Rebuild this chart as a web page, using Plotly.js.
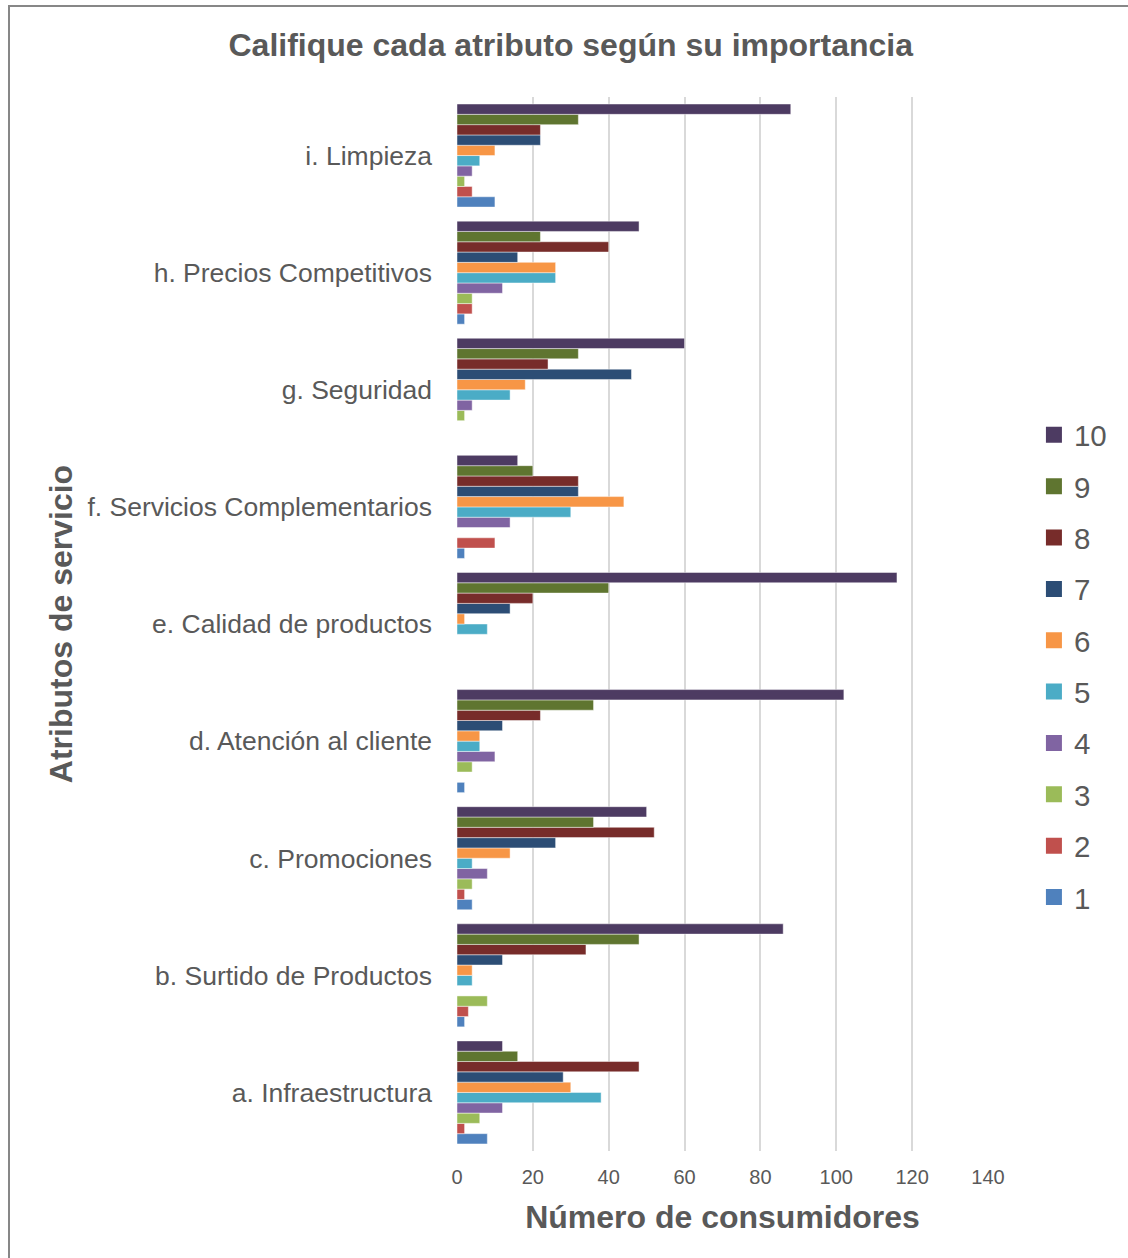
<!DOCTYPE html>
<html>
<head>
<meta charset="utf-8">
<script src="https://cdn.plot.ly/plotly-3.0.1.min.js"></script>
<style>
  html, body { margin: 0; padding: 0; background: #ffffff; overflow: hidden; }
  #chart { position: absolute; left: 0; top: 0; width: 1128px; height: 1258px; }
  #frame { position: absolute; left: 8px; top: 5px; width: 1200px; height: 1300px;
           border-left: 2px solid #878787; border-top: 2px solid #878787; pointer-events: none; }
</style>
</head>
<body>
<div id="chart"></div>
<div id="frame"></div>
<script>
// Categories (bottom to top)
const categories = [
  "a. Infraestructura",
  "b. Surtido de Productos",
  "c. Promociones",
  "d. Atención al cliente",
  "e. Calidad de productos",
  "f. Servicios Complementarios",
  "g. Seguridad",
  "h. Precios Competitivos",
  "i. Limpieza"
];

// Series: rating score -> number of consumers per category (a..i)
const rating1  = [8, 2, 4, 2, 0, 2, 0, 2, 10];
const rating2  = [2, 3, 2, 0, 0, 10, 0, 4, 4];
const rating3  = [6, 8, 4, 4, 0, 0, 2, 4, 2];
const rating4  = [12, 0, 8, 10, 0, 14, 4, 12, 4];
const rating5  = [38, 4, 4, 6, 8, 30, 14, 26, 6];
const rating6  = [30, 4, 14, 6, 2, 44, 18, 26, 10];
const rating7  = [28, 12, 26, 12, 14, 32, 46, 16, 22];
const rating8  = [48, 34, 52, 22, 20, 32, 24, 40, 22];
const rating9  = [16, 48, 36, 36, 40, 20, 32, 22, 32];
const rating10 = [12, 86, 50, 102, 116, 16, 60, 48, 88];

const seriesNames = ["1", "2", "3", "4", "5", "6", "7", "8", "9", "10"];
const seriesValues = [rating1, rating2, rating3, rating4, rating5, rating6, rating7, rating8, rating9, rating10];
const seriesColors = ["#4F81BD", "#C0504D", "#9BBB59", "#8064A2", "#4BACC6",
                      "#F79646", "#2C4D75", "#772C2A", "#5F7530", "#4D3B62"];

const xTicks = [0, 20, 40, 60, 80, 100, 120, 140];

const textColor = "#595959";
const fontFam = "Liberation Sans, Arial, sans-serif";

const barTraces = seriesNames.map((name, i) => ({
  type: "bar",
  orientation: "h",
  name: name,
  legendgroup: "g" + name,
  showlegend: false,
  x: seriesValues[i],
  y: categories,
  marker: { color: seriesColors[i], line: { color: "rgba(255,255,255,0.45)", width: 1 } },
  hoverinfo: "x+y+name"
}));

// legend-only entries with larger square swatches (10 on top)
const legendTraces = seriesNames.map((name, i) => ({
  type: "scatter",
  mode: "markers",
  name: name,
  legendgroup: "g" + name,
  legendrank: seriesNames.length - i,
  x: [null],
  y: [null],
  marker: { color: seriesColors[i], symbol: "square", size: 16 },
  hoverinfo: "skip"
}));

const layout = {
  width: 1128,
  height: 1258,
  paper_bgcolor: "rgba(0,0,0,0)",
  plot_bgcolor: "#ffffff",
  margin: { l: 457, r: 140, t: 97, b: 107, pad: 0 },
  barmode: "group",
  bargap: 0.12,
  bargroupgap: 0,
  font: { family: fontFam, color: textColor },
  title: {
    text: "<b>Califique cada atributo según su importancia</b>",
    font: { family: fontFam, size: 32, color: textColor },
    x: 0.506, xref: "container", xanchor: "center",
    y: 1 - 45 / 1258, yref: "container", yanchor: "middle"
  },
  xaxis: {
    range: [0, 140],
    tickvals: xTicks,
    ticktext: xTicks.map(String),
    showgrid: true,
    gridcolor: "#D9D9D9",
    gridwidth: 2,
    zeroline: false,
    showline: false,
    ticks: "",
    ticklabelstandoff: 12,
    tickfont: { family: fontFam, size: 20, color: textColor },
    title: {
      text: "<b>Número de consumidores</b>",
      font: { family: fontFam, size: 32, color: textColor },
      standoff: 18
    },
    fixedrange: true
  },
  yaxis: {
    type: "category",
    categoryorder: "array",
    categoryarray: categories,
    range: [-0.5, categories.length - 0.5],
    showgrid: false,
    zeroline: false,
    showline: false,
    ticks: "",
    ticklabelstandoff: 24,
    tickfont: { family: fontFam, size: 26.5, color: textColor },
    title: {
      text: "<b>Atributos de servicio</b>",
      font: { family: fontFam, size: 32, color: textColor },
      standoff: 5
    },
    fixedrange: true
  },
  showlegend: true,
  legend: {
    traceorder: "grouped",
    tracegroupgap: 10,
    x: 1.0865, xanchor: "left",
    y: 0.46, yanchor: "middle",
    font: { family: fontFam, size: 29.5, color: textColor },
    bgcolor: "rgba(0,0,0,0)",
    itemwidth: 30
  }
};

Plotly.newPlot("chart", barTraces.concat(legendTraces), layout, { displayModeBar: false, staticPlot: true });
</script>
</body>
</html>
